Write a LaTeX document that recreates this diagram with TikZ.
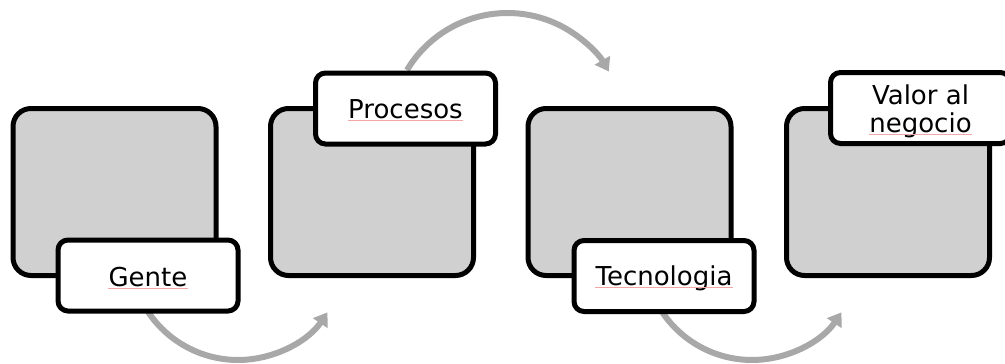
\documentclass[tikz,border=0pt]{standalone}
\usepackage{fontspec}
\setmainfont{DejaVu Sans}
\usetikzlibrary{arrows.meta}
\definecolor{boxgray}{HTML}{D0D0D0}
\definecolor{arrowgray}{HTML}{A8A8A8}
\definecolor{spellred}{HTML}{F2A6A6}
\begin{document}
\begin{tikzpicture}[x=1pt,y=-1pt,
  panel/.style={draw=black,line width=5pt,fill=boxgray,rounded corners=18pt,
    minimum width=203pt,minimum height=167pt,inner sep=0pt},
  tag/.style={draw=black,line width=5pt,fill=white,rounded corners=10pt,
    minimum width=180pt,minimum height=71pt,inner sep=0pt},
  flow/.style={draw=arrowgray,line width=6pt,-{Triangle[length=13pt,width=17pt]}},
  lbl/.style={inner sep=0pt,anchor=base,font=\fontsize{26}{29}\selectfont},
  squiggle/.style={draw=spellred,line width=1pt}]
\useasboundingbox (0,0) rectangle (1005,364);

% grey panels
\node[panel] (p1) at (114.5,192) {};
\node[panel] (p2) at (372,192) {};
\node[panel] (p3) at (629.5,192) {};
\node[panel] (p4) at (888,192) {};

% curved flow arrows
\coordinate (a1s) at (148.1,311.9);
\coordinate (a2s) at (407,70.1);
\coordinate (a3s) at (662.1,311.9);
\draw[flow] (a1s) arc[start angle=146.3,end angle=34,radius=108];
\draw[flow] (a2s) arc[start angle=210.8,end angle=330,radius=117];
\draw[flow] (a3s) arc[start angle=146.3,end angle=34,radius=108];

% label tabs
\node[tag] (t1) at (148,275.5) {};
\node[tag] (t2) at (405.5,108.5) {};
\node[tag] (t3) at (664,276) {};
\node[tag] (t4) at (920.5,108) {};

% label texts
\node[lbl] (g1) at (148,286) {Gente};
\node[lbl] (g2) at (405.5,118) {Procesos};
\node[lbl] (g3) at (664,285) {Tecnologia};
\node[lbl] (g4a) at (920.5,104) {Valor al};
\node[lbl] (g4b) at (920.5,132) {negocio};

% spell-check underlines
\foreach \w in {g1,g2,g3,g4b}
  \draw[squiggle] ([yshift=-2pt]\w.base west) -- ([yshift=-2pt]\w.base east);
\end{tikzpicture}
\end{document}
